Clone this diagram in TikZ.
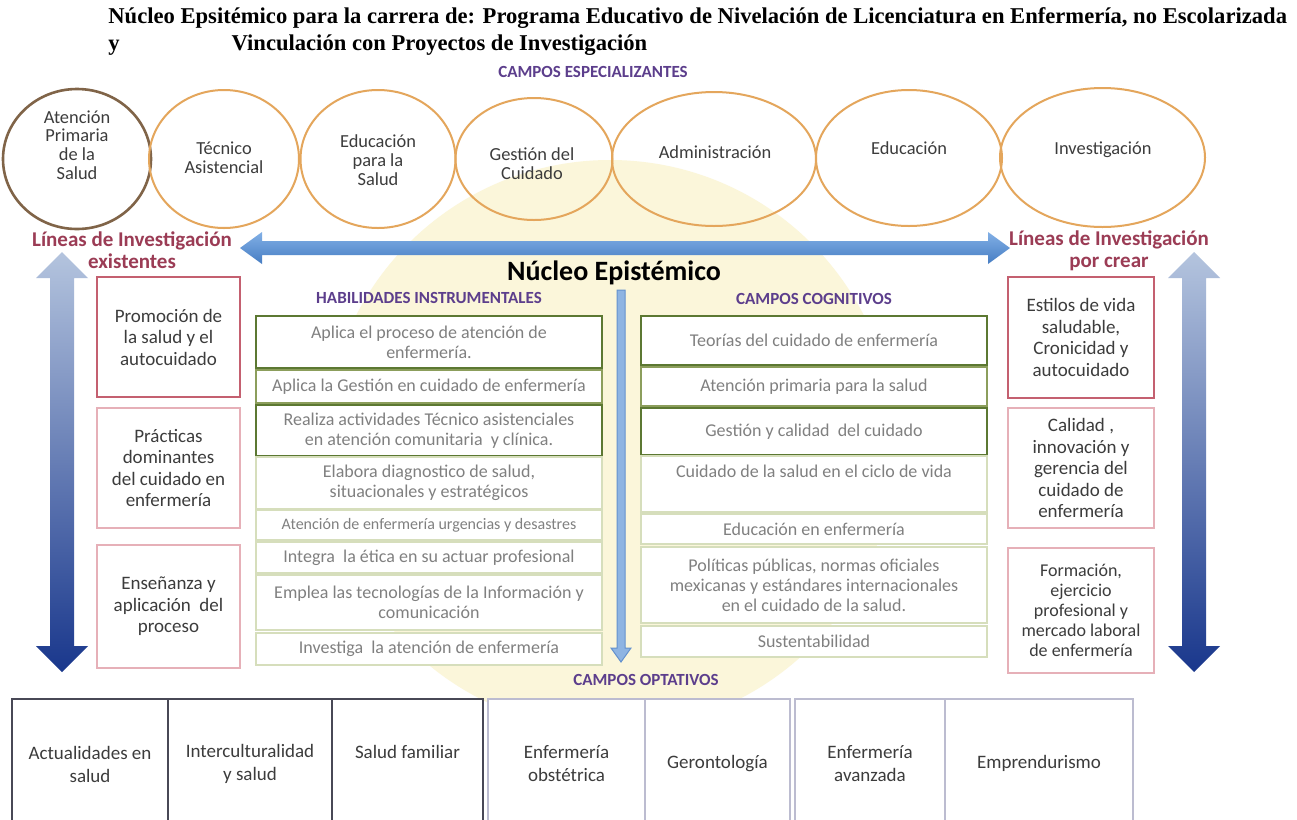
\documentclass[tikz,border=0pt]{standalone}
\usepackage{fontspec}
\setmainfont{Carlito}
\newfontfamily\titlefont{Liberation Serif}
\usetikzlibrary{shapes.geometric}
\begin{document}
\begin{tikzpicture}[x=0.5pt,y=-0.5pt,
  oval/.style={ellipse,draw=ovalcolor,line width=1pt},
  ovaltext/.style={align=center,text=neutralcolor,font=\fontsize{9.2}{9.4}\selectfont},
  linebox/.style={draw=rosecolor,line width=1pt,fill=white,minimum width=71.5pt,inner sep=1pt,align=center,text=neutralcolor,font=\fontsize{9.5}{10.75}\selectfont},
  skillbox/.style={draw=greencolor,line width=1.1pt,fill=white,minimum width=173pt,inner sep=1pt,align=center,text=greytextcolor,font=\fontsize{9}{10}\selectfont},
  palebox/.style={skillbox,draw=palegreencolor,line width=0.8pt},
  optbox/.style={draw=darkboxcolor,line width=1.2pt,fill=white,anchor=north,minimum height=65pt,inner sep=1pt,align=center,text=neutralcolor,font=\fontsize{9.5}{11.5}\selectfont},
  lightoptbox/.style={optbox,draw=lightboxcolor,line width=0.8pt},
  heading/.style={text=purplecolor,font=\bfseries\fontsize{8.5}{10}\selectfont},
  titletext/.style={anchor=west,inner sep=0pt,font=\titlefont\bfseries\fontsize{11.3}{13}\selectfont},
  lineastext/.style={align=center,text=linescolor,font=\bfseries\fontsize{10.5}{10.75}\selectfont}]
\definecolor{neutralcolor}{RGB}{60,60,60}
\definecolor{ovalcolor}{RGB}{228,166,92}
\definecolor{firstovalcolor}{RGB}{128,100,72}
\definecolor{purplecolor}{RGB}{92,62,140}
\definecolor{linescolor}{RGB}{155,60,85}
\definecolor{rosecolor}{RGB}{196,96,112}
\definecolor{palerosecolor}{RGB}{230,176,184}
\definecolor{greencolor}{RGB}{92,120,50}
\definecolor{olivecolor}{RGB}{140,158,92}
\definecolor{palegreencolor}{RGB}{214,222,188}
\definecolor{greytextcolor}{RGB}{128,128,128}
\definecolor{darkboxcolor}{RGB}{72,72,86}
\definecolor{lightboxcolor}{RGB}{188,188,208}
\definecolor{glowcolor}{RGB}{251,246,218}
\definecolor{harrowtop}{RGB}{130,176,230}
\definecolor{harrowbottom}{RGB}{70,125,195}
\definecolor{varrowtop}{RGB}{180,196,222}
\definecolor{varrowbottom}{RGB}{25,55,140}
\definecolor{thinarrowcolor}{RGB}{142,180,226}
\definecolor{thinedgecolor}{RGB}{100,145,205}
\pgfdeclareradialshading{glow}{\pgfpoint{0bp}{0bp}}{color(0bp)=(glowcolor);color(28bp)=(glowcolor);color(50bp)=(white)}
\fill[white] (0,0) rectangle (1297,820);
\useasboundingbox (0,0) rectangle (1297,820);
\shade[shading=glow] (610,445) circle [radius=285];
\shade[top color=harrowtop,bottom color=harrowbottom] (240,248) -- (262,232) -- (262,241) -- (988,241) -- (988,232) -- (1010,248) -- (988,264) -- (988,255) -- (262,255) -- (262,264) -- cycle;
\shade[top color=varrowtop,bottom color=varrowbottom] (62,252) -- (88,278) -- (74,278) -- (74,646) -- (88,646) -- (62,672) -- (36,646) -- (50,646) -- (50,278) -- (36,278) -- cycle;
\shade[top color=varrowtop,bottom color=varrowbottom] (1194,252) -- (1220,278) -- (1206,278) -- (1206,646) -- (1220,646) -- (1194,672) -- (1168,646) -- (1182,646) -- (1182,278) -- (1168,278) -- cycle;
\draw[thinedgecolor,fill=thinarrowcolor,line width=0.5pt] (617,290) -- (625,290) -- (625,648) -- (631,648) -- (621,662) -- (611,648) -- (617,648) -- cycle;
\node[titletext] (title1) at (108,18) {Núcleo Epsitémico para la carrera de: Programa Educativo de Nivelación de Licenciatura en Enfermería, no Escolarizada};
\node[titletext] (title2) at (108,45) {y\hspace{56pt}Vinculación con Proyectos de Investigación};
\node[heading] (especial) at (593,72) {CAMPOS ESPECIALIZANTES};
\node[oval,draw=firstovalcolor,line width=1.3pt,minimum width=74pt,minimum height=70pt] (e1) at (77,159) {};
\node[oval,minimum width=75pt,minimum height=69pt] (e2) at (224,159) {};
\node[oval,minimum width=77.5pt,minimum height=69pt] (e3) at (378,159) {};
\node[oval,minimum width=78.5pt,minimum height=61pt] (e4) at (534,159) {};
\node[oval,minimum width=102pt,minimum height=67pt] (e5) at (714,159) {};
\node[oval,minimum width=93pt,minimum height=68pt] (e6) at (909,158) {};
\node[oval,minimum width=102.5pt,minimum height=69.5pt] (e7) at (1102.5,157.5) {};
\node[ovaltext] (t1) at (77,145) {Atención\\Primaria\\de la\\Salud};
\node[ovaltext] (t2) at (224,158) {Técnico\\Asistencial};
\node[ovaltext] (t3) at (378,160) {Educación\\para la\\Salud};
\node[ovaltext] (t4) at (532,164) {Gestión del\\Cuidado};
\node[ovaltext] (t5) at (715,152) {Administración};
\node[ovaltext] (t6) at (909,148) {Educación};
\node[ovaltext] (t7) at (1103,150) {Investigación};
\node[lineastext] (lineasL) at (132,250) {Líneas de Investigación\\existentes};
\node[lineastext] (lineasR) at (1109,251) {Líneas de Investigación\\por crear};
\node[font=\bfseries\fontsize{14}{16}\selectfont] (nucleo) at (614,273) {Núcleo Epistémico};
\node[heading] (habil) at (429,298) {HABILIDADES INSTRUMENTALES};
\node[heading] (cognit) at (814,299) {CAMPOS COGNITIVOS};
\node[linebox,minimum height=60pt] (lin1) at (168.5,337) {Promoción de\\la salud y el\\autocuidado};
\node[linebox,draw=palerosecolor,minimum height=60pt] (lin2) at (168.5,468) {Prácticas\\dominantes\\del cuidado en\\enfermería};
\node[linebox,draw=palerosecolor,minimum height=61.5pt] (lin3) at (168.5,606.5) {Enseñanza y\\aplicación\ \ del\\proceso};
\node[linebox,minimum width=73pt,minimum height=60.5pt] (new1) at (1081,337.5) {Estilos de vida\\saludable,\\Cronicidad y\\autocuidado};
\node[linebox,draw=palerosecolor,minimum width=73pt,minimum height=60pt] (new2) at (1081,468) {Calidad ,\\innovación y\\gerencia del\\cuidado de\\enfermería};
\node[linebox,draw=palerosecolor,minimum width=73pt,minimum height=62.5pt,font=\fontsize{9}{10}\selectfont] (new3) at (1081,610.5) {Formación,\\ejercicio\\profesional y\\mercado laboral\\de enfermería};
\node[skillbox,minimum height=26pt] (s1) at (429,342) {Aplica el proceso de atención de\\enfermería.};
\node[skillbox,draw=olivecolor,minimum height=16.5pt] (s2) at (429,386.5) {Aplica la Gestión en cuidado de enfermería};
\node[skillbox,minimum height=25.5pt] (s3) at (429,430.5) {Realiza actividades Técnico asistenciales\\en atención comunitaria\ \ y clínica.};
\node[palebox,minimum height=26pt] (s4) at (429,483) {Elabora diagnostico de salud,\\situacionales y estratégicos};
\node[palebox,minimum height=15pt,font=\fontsize{8}{9}\selectfont] (s5) at (429,525) {Atención de enfermería urgencias y desastres};
\node[palebox,minimum height=15.5pt] (s6) at (429,557.5) {Integra\ \ la ética en su actuar profesional};
\node[palebox,minimum height=27.5pt] (s7) at (429,602.5) {Emplea las tecnologías de la Información y\\comunicación};
\node[palebox,minimum height=16pt] (s8) at (429,649) {Investiga\ \ la atención de enfermería};
\node[skillbox,minimum height=24.5pt] (c1) at (814,340.5) {Teorías del cuidado de enfermería};
\node[skillbox,draw=olivecolor,minimum height=19.5pt] (c2) at (814,386.5) {Atención primaria para la salud};
\node[skillbox,minimum height=23.5pt] (c3) at (814,431.5) {Gestión y calidad\ \ del cuidado};
\node[palebox,minimum height=28pt,text depth=13pt] (c4) at (814,484) {Cuidado de la salud en el ciclo de vida};
\node[palebox,minimum height=15pt] (c5) at (814,529) {Educación en enfermería};
\node[palebox,minimum height=38pt] (c6) at (814,585) {Políticas públicas, normas oficiales\\mexicanas y estándares internacionales\\en el cuidado de la salud.};
\node[palebox,minimum height=15.5pt] (c7) at (814,641.5) {Sustentabilidad};
\node[heading] (optat) at (646,680) {CAMPOS OPTATIVOS};
\node[optbox,minimum width=78pt] (o1) at (90,698) {Actualidades en\\salud};
\node[optbox,minimum width=82pt] (o2) at (250,698) {Interculturalidad\\y salud};
\node[optbox,minimum width=75.5pt,text depth=12pt] (o3) at (407.5,698) {Salud familiar};
\node[lightoptbox,minimum width=78.5pt] (o4) at (566.5,698) {Enfermería\\obstétrica};
\node[lightoptbox,minimum width=72.5pt] (o5) at (717.5,698) {Gerontología};
\node[lightoptbox,minimum width=75pt] (o6) at (870,698) {Enfermería\\avanzada};
\node[lightoptbox,minimum width=94pt] (o7) at (1039,698) {Emprendurismo};
\end{tikzpicture}
\end{document}
